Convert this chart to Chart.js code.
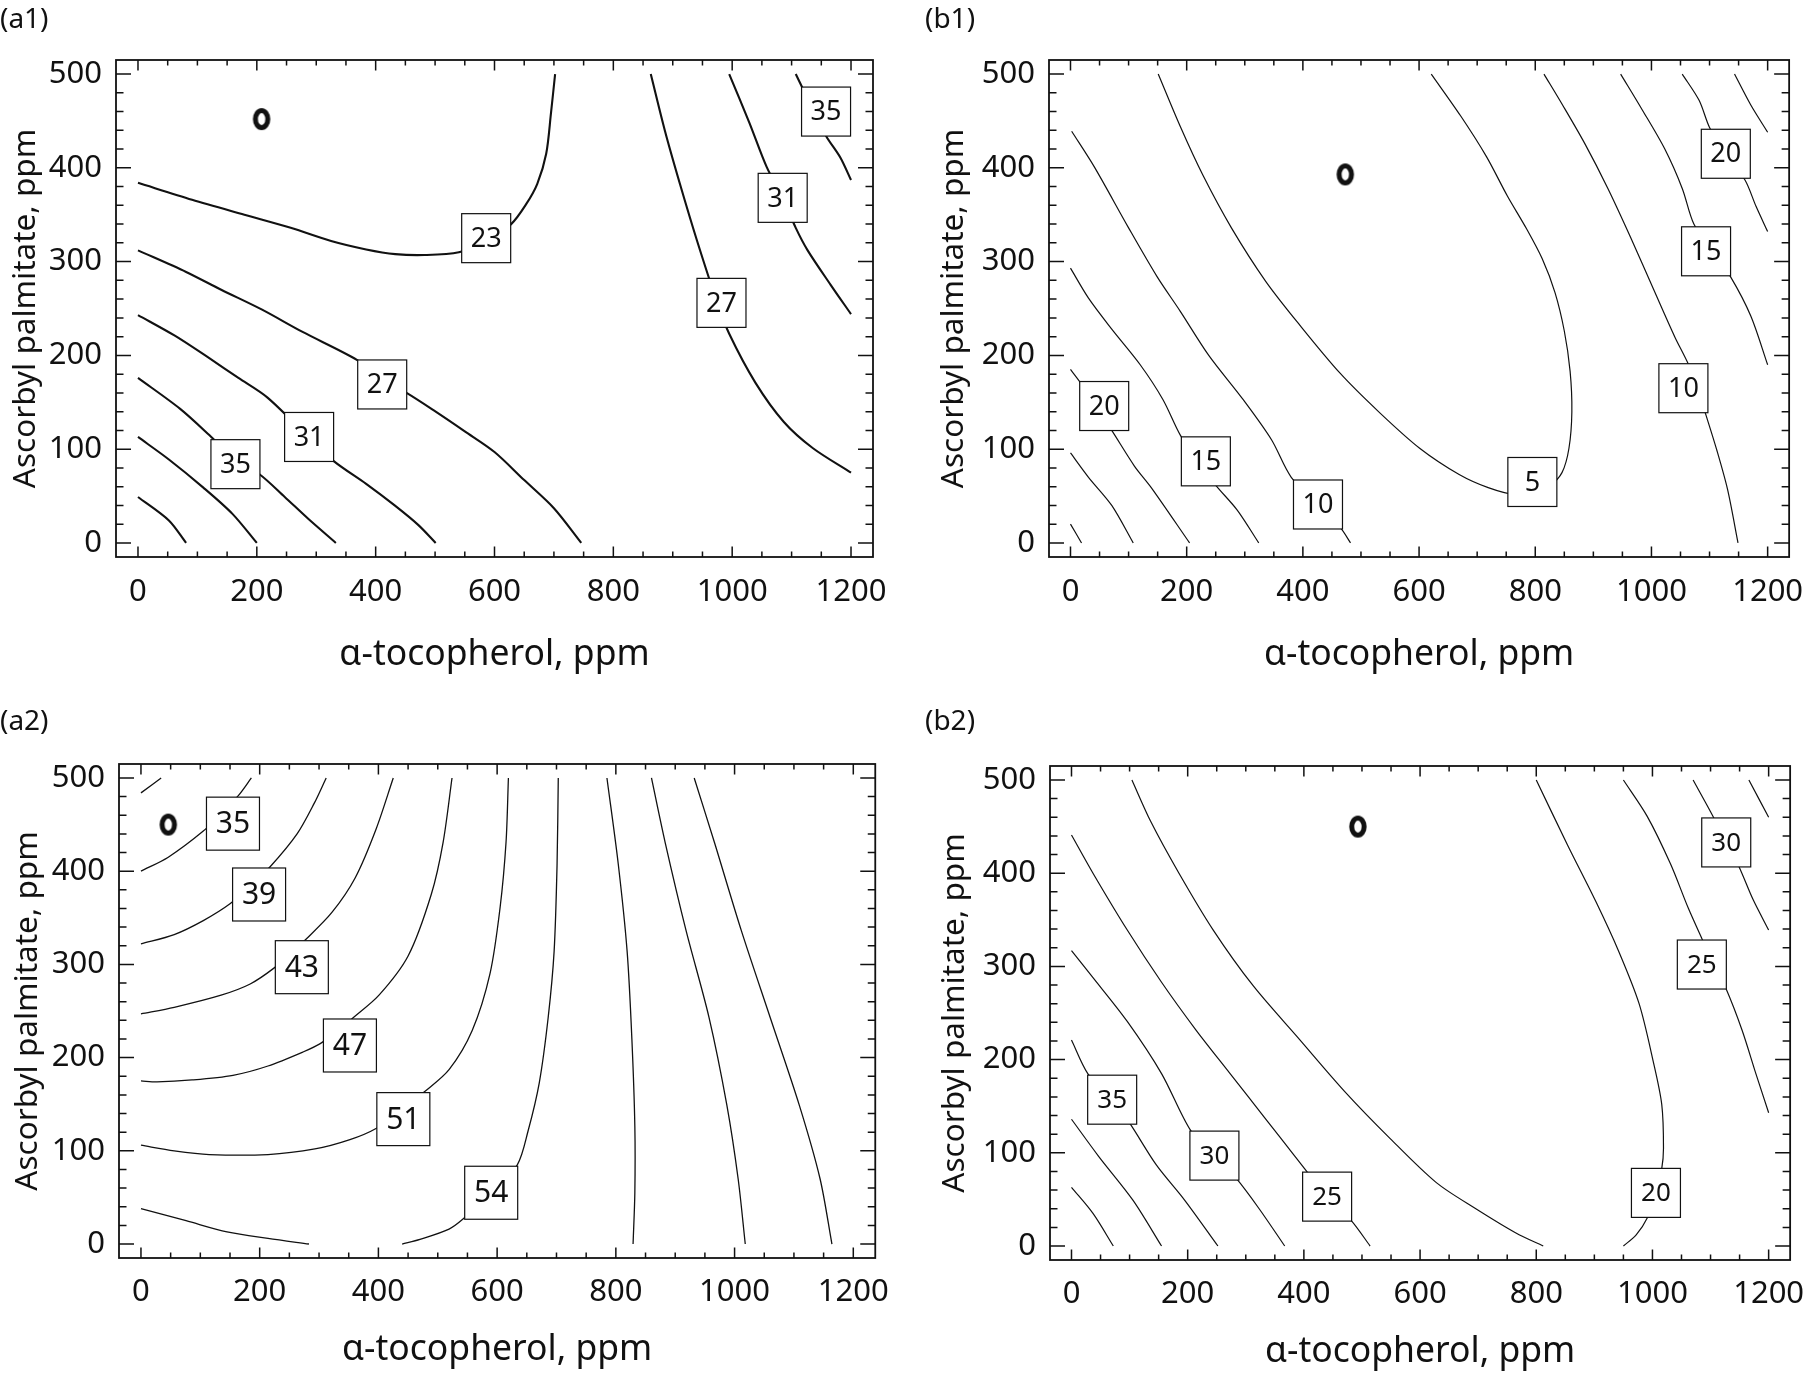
<!DOCTYPE html>
<html>
<head>
<meta charset="utf-8">
<script src="https://cdn.jsdelivr.net/npm/chart.js@4.4.1/dist/chart.umd.min.js"></script>
<style>
  body { margin: 0; background: #fff; }
  canvas { position: absolute; }
</style>
</head>
<body>
<canvas id="a1" width="905" height="688" style="left:0px;top:0px"></canvas>
<canvas id="b1" width="895" height="688" style="left:925px;top:0px"></canvas>
<canvas id="a2" width="905" height="685" style="left:0px;top:690px"></canvas>
<canvas id="b2" width="895" height="685" style="left:925px;top:690px"></canvas>
<script>
// tick labels
const xTicks = [0, 200, 400, 600, 800, 1000, 1200];
const yTicks = [0, 100, 200, 300, 400, 500];

// (a1) contour lines, [tocopherol, palmitate]
const a1c23 = [[0,384],[91,366],[179,350],[257,336],[325,322],[384,313],[433,308],[482,307],[540,310],[586,322],[628,340],[653,361],[672,383],[687,415],[695,458],[702,500]];
const a1c27 = [[0,312],[81,289],[140,270],[208,249],[277,225],[369,195],[411,174],[452,160],[501,140],[550,119],[600,97],[650,67],[700,37],[746,0]];
const a1c31 = [[0,243],[62,221],[120,197],[169,176],[218,155],[288,112],[330,87],[384,63],[432,40],[472,19],[501,0]];
const a1c35 = [[0,176],[71,143],[120,115],[164,88],[205,73],[247,49],[286,26],[333,0]];
const a1c39 = [[0,113],[52,89],[110,59],[159,31],[200,0]];
const a1c43 = [[0,49],[52,24],[81,0]];
const a1c27r = [[863,500],[887,439],[912,383],[941,322],[975,256],[995,223],[1039,171],[1087,129],[1136,101],[1200,75]];
const a1c31r = [[995,500],[1029,448],[1058,401],[1085,368],[1107,336],[1127,312],[1166,275],[1200,244]];
const a1c35r = [[1107,500],[1120,483],[1138,460],[1158,434],[1182,411],[1200,387]];
const a1Labels = [[586,325,'23'],[411,169,'27'],[288,113,'31'],[164,84,'35'],[982,256,'27'],[1085,368,'31'],[1158,460,'35']];
const a1Opt = [208, 452];

// (b1)
const b1c5 = [[151,500],[189,444],[228,392],[277,336],[336,279],[395,232],[464,181],[532,139],[601,101],[669,73],[719,59],[768,51],[795,52],[825,61],[846,75],[858,101],[863,140],[860,183],[850,226],[834,267],[812,303],[785,335],[752,370],[716,412],[672,455],[621,500]];
const b1c10 = [[2,439],[41,401],[100,336],[149,284],[189,247],[238,200],[297,153],[346,110],[380,70],[426,42],[465,16],[482,0]];
const b1c15 = [[0,293],[31,261],[71,228],[120,190],[159,153],[189,115],[218,89],[248,63],[287,35],[324,0]];
const b1c20 = [[0,185],[17,171],[44,145],[71,120],[110,82],[139,59],[205,0]];
const b1c25 = [[0,96],[31,70],[71,40],[108,0]];
const b1c30 = [[0,20],[19,0]];
const b1c10r = [[815,500],[847,467],[886,425],[925,378],[964,326],[1004,270],[1040,220],[1064,190],[1080,163],[1094,136],[1112,100],[1131,57],[1149,0]];
const b1c15r = [[947,500],[984,462],[1023,420],[1053,378],[1073,340],[1105,311],[1136,284],[1171,242],[1200,190]];
const b1c20r = [[1053,500],[1082,472],[1100,443],[1128,414],[1161,387],[1180,359],[1200,332]];
const b1c25r = [[1143,500],[1171,467],[1200,438]];
const b1Labels = [[795,65,'5'],[426,41,'10'],[233,87,'15'],[58,146,'20'],[1055,165,'10'],[1094,311,'15'],[1128,415,'20']];
const b1Opt = [473, 393];

// (a2)
const a2c31 = [[0,484],[34,500]];
const a2c35 = [[0,400],[46,415],[105,443],[135,462],[164,481],[186,500]];
const a2c39 = [[0,322],[56,332],[105,347],[150,365],[185,385],[218,405],[263,440],[292,473],[312,500]];
const a2c43 = [[0,247],[56,254],[135,267],[184,279],[224,296],[250,311],[278,327],[322,356],[361,393],[396,445],[425,500]];
const a2c47 = [[0,175],[27,174],[86,176],[155,181],[214,191],[273,206],[302,215],[330,228],[356,242],[401,267],[450,309],[489,375],[509,431],[524,500]];
const a2c51 = [[0,106],[56,100],[115,96],[214,96],[293,102],[352,112],[396,124],[437,143],[477,163],[519,187],[558,229],[588,290],[605,361],[615,431],[619,500]];
const a2c54a = [[0,38],[76,25],[145,13],[214,6],[283,0]];
const a2c54b = [[440,0],[470,5],[519,16],[543,27],[590,55],[634,85],[652,121],[671,173],[686,243],[696,314],[701,408],[703,500]];
const a2c54c = [[785,500],[804,408],[819,314],[827,220],[832,126],[832,55],[829,0]];
const a2c51r = [[860,500],[883,431],[918,337],[957,243],[987,149],[1006,70],[1018,0]];
const a2c47r = [[932,500],[966,431],[1011,337],[1060,243],[1109,149],[1144,70],[1164,0]];
const a2Labels = [[155,451,'35'],[199,375,'39'],[271,297,'43'],[352,213,'47'],[442,134,'51'],[590,55,'54']];
const a2Opt = [46, 450];

// (b2)
const b2c20 = [[104,500],[136,456],[185,400],[244,339],[313,279],[392,222],[470,166],[549,115],[628,68],[696,40],[765,14],[812,0]];
const b2c20r = [[950,0],[972,12],[991,30],[1006,57],[1016,83],[1019,105],[1016,152],[1001,199],[977,260],[942,316],[903,369],[854,430],[800,500]];
const b2c25 = [[0,441],[37,400],[96,339],[155,283],[214,232],[273,185],[332,138],[385,96],[440,53],[482,27],[514,0]];
const b2c30 = [[0,317],[37,288],[96,241],[155,185],[205,124],[246,97],[283,73],[323,40],[367,0]];
const b2c35 = [[0,221],[28,185],[70,157],[101,131],[146,87],[195,49],[252,0]];
const b2c40 = [[0,136],[47,96],[106,49],[155,0]];
const b2c45 = [[0,63],[37,35],[72,0]];
const b2c25r = [[950,500],[991,461],[1031,410],[1062,362],[1085,330],[1105,303],[1126,277],[1154,232],[1178,185],[1200,143]];
const b2c30r = [[1070,500],[1100,466],[1125,436],[1149,407],[1173,372],[1200,339]];
const b2c35r = [[1166,500],[1200,460]];
const b2Labels = [[1006,57,'20'],[440,53,'25'],[246,97,'30'],[70,157,'35'],[1085,302,'25'],[1127,433,'30']];
const b2Opt = [493, 450];

const INK = '#111';
Chart.defaults.font.family = "'Noto Sans', sans-serif";
Chart.defaults.color = INK;

// ring marker for the optimum point
const ring = document.createElement('canvas');
ring.width = 22; ring.height = 28;
(function () {
  const c = ring.getContext('2d');
  c.strokeStyle = INK;
  c.lineWidth = 5;
  c.beginPath();
  c.ellipse(11, 14, 6.2, 8.6, 0, 0, Math.PI * 2);
  c.stroke();
})();

// frame with inward ticks on all four sides
const frameTicks = {
  id: 'frameTicks',
  afterDraw(chart) {
    const { ctx, chartArea: a, scales: { x, y } } = chart;
    ctx.save();
    ctx.strokeStyle = INK;
    ctx.lineWidth = 1.5;
    ctx.beginPath();
    for (let v = 0; v <= 1200; v += 50) {
      const px = x.getPixelForValue(v);
      const len = v % 200 === 0 ? 10.5 : 5.5;
      ctx.moveTo(px, a.bottom); ctx.lineTo(px, a.bottom - len);
      ctx.moveTo(px, a.top); ctx.lineTo(px, a.top + len);
    }
    for (let v = 0; v <= 500; v += 20) {
      const py = y.getPixelForValue(v);
      const len = v % 100 === 0 ? 15 : 7.5;
      ctx.moveTo(a.left, py); ctx.lineTo(a.left + len, py);
      ctx.moveTo(a.right, py); ctx.lineTo(a.right - len, py);
    }
    ctx.stroke();
    ctx.lineWidth = 1.8;
    ctx.strokeRect(a.left, a.top, a.right - a.left, a.bottom - a.top);
    ctx.restore();
  }
};

// boxed contour values
const boxLabels = {
  id: 'boxLabels',
  afterDatasetsDraw(chart, args, opts) {
    const { ctx, scales: { x, y } } = chart;
    ctx.save();
    ctx.font = opts.size + "px 'Noto Sans', sans-serif";
    ctx.textAlign = 'center';
    ctx.textBaseline = 'middle';
    opts.items.forEach(([vx, vy, t]) => {
      const px = x.getPixelForValue(vx), py = y.getPixelForValue(vy);
      ctx.fillStyle = '#fff';
      ctx.fillRect(px - opts.w / 2, py - opts.h / 2, opts.w, opts.h);
      ctx.strokeStyle = INK;
      ctx.lineWidth = 1.2;
      ctx.strokeRect(px - opts.w / 2, py - opts.h / 2, opts.w, opts.h);
      ctx.fillStyle = INK;
      ctx.fillText(t, px, py + 1);
    });
    ctx.restore();
  }
};

function toXY(arr) {
  return arr.map(([x, y]) => ({ x: x, y: y }));
}

function panel(id, p) {
  const datasets = p.lines.map(l => ({
    type: 'line',
    data: toXY(l),
    borderColor: INK,
    borderWidth: p.lw,
    pointRadius: 0,
    tension: 0.3,
    fill: false
  }));
  datasets.push({
    type: 'scatter',
    data: toXY([p.opt]),
    pointStyle: ring,
    pointRadius: 8
  });

  new Chart(document.getElementById(id), {
    type: 'line',
    data: { datasets: datasets },
    plugins: [boxLabels, frameTicks],
    options: {
      responsive: false,
      animation: false,
      devicePixelRatio: 1,
      layout: { padding: { left: 0, right: p.padRight, top: 0, bottom: 0 } },
      plugins: {
        legend: { display: false },
        tooltip: { enabled: false },
        title: {
          display: true,
          text: p.name,
          align: 'start',
          color: INK,
          font: { size: 28, weight: 'normal' },
          padding: { top: p.tTop, bottom: p.tBottom }
        },
        boxLabels: { items: p.labels, w: p.bw, h: p.bh, size: p.bs }
      },
      scales: {
        x: {
          type: 'linear',
          min: -37,
          max: 1237,
          afterBuildTicks: s => { s.ticks = xTicks.map(v => ({ value: v })); },
          afterFit: s => { s.height = p.xh; },
          grid: { display: false, drawTicks: false },
          border: { display: false },
          ticks: { font: { size: 31 }, color: INK, padding: p.xPad, maxRotation: 0, autoSkip: false, callback: v => String(v) },
          title: {
            display: true,
            text: 'α-tocopherol, ppm',
            color: INK,
            font: { size: 35.5 },
            padding: { top: 0, bottom: p.xtb }
          }
        },
        y: {
          type: 'linear',
          min: -15,
          max: 515,
          afterBuildTicks: s => { s.ticks = yTicks.map(v => ({ value: v })); },
          afterFit: s => { s.width = p.yw; },
          grid: { display: false, drawTicks: false },
          border: { display: false },
          ticks: { font: { size: 31 }, color: INK, padding: 14, autoSkip: false, callback: v => String(v) },
          title: {
            display: true,
            text: 'Ascorbyl palmitate, ppm',
            color: INK,
            font: { size: 31.5 },
            padding: { top: p.ytt, bottom: 0 }
          }
        }
      }
    }
  });
}

panel('a1', {
  name: '(a1)', lines: [a1c23, a1c27, a1c31, a1c35, a1c39, a1c43, a1c27r, a1c31r, a1c35r],
  labels: a1Labels, opt: a1Opt, lw: 2.1, bw: 49, bh: 49, bs: 27,
  padRight: 32, tTop: 3.2, tBottom: 23.2, yw: 116, ytt: 7, xh: 131, xPad: 16.4, xtb: 11.7
});
panel('b1', {
  name: '(b1)', lines: [b1c5, b1c10, b1c15, b1c20, b1c25, b1c30, b1c10r, b1c15r, b1c20r, b1c25r],
  labels: b1Labels, opt: b1Opt, lw: 1.2, bw: 49, bh: 49, bs: 27,
  padRight: 17, tTop: 3.2, tBottom: 23.2, yw: 124, ytt: 10, xh: 131, xPad: 16.4, xtb: 11.7
});
panel('a2', {
  name: '(a2)', lines: [a2c31, a2c35, a2c39, a2c43, a2c47, a2c51, a2c54a, a2c54b, a2c54c, a2c51r, a2c47r],
  labels: a2Labels, opt: a2Opt, lw: 1.3, bw: 53, bh: 53, bs: 30,
  padRight: 29, tTop: 15.2, tBottom: 25.2, yw: 119, ytt: 9, xh: 117, xPad: 15.4, xtb: 3.7
});
panel('b2', {
  name: '(b2)', lines: [b2c20, b2c20r, b2c25, b2c30, b2c35, b2c40, b2c45, b2c25r, b2c30r, b2c35r],
  labels: b2Labels, opt: b2Opt, lw: 1.2, bw: 49, bh: 49, bs: 26,
  padRight: 17, tTop: 15.2, tBottom: 27.2, yw: 125, ytt: 11, xh: 115, xPad: 15.4, xtb: 1.7
});
</script>
</body>
</html>
